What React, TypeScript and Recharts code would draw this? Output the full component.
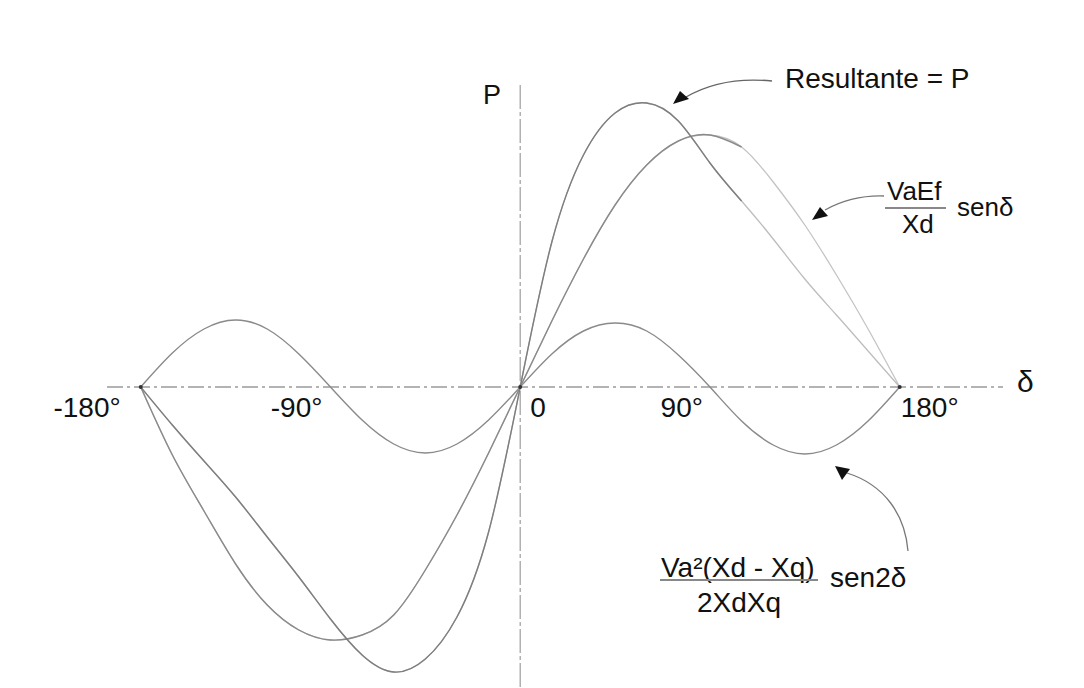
import React from 'react';
import { LineChart, Line, XAxis, YAxis, ReferenceLine, ReferenceDot, Customized } from 'recharts';

// load angle δ in degrees
const deltaDeg = [-180, -165, -150, -135, -120, -105, -90, -75, -60, -45, -30, -15, 0, 15, 30, 45, 60, 75, 90, 105, 120, 135, 150, 165, 180];
// (VaEf / Xd) sen δ
const sinTerm = [0, -68, -124, -177, -218, -243, -253, -248, -228, -183, -128, -66, 0, 66, 128, 182, 222, 246, 252, 240, 205, 162, 112, 58, 0];
// Va²(Xd - Xq) / 2XdXq sen 2δ
const sin2Term = [0, 34, 58, 67, 58, 33, 0, -33, -57, -66, -57, -33, 0, 33, 56, 64, 56, 32, 0, -34, -58, -67, -58, -34, 0];
// Resultante = P
const resultant = [0, -38, -74, -110, -150, -190, -232, -268, -285, -272, -230, -145, 0, 145, 232, 274, 284, 266, 224, 186, 148, 108, 72, 36, 0];

const tickValues = [-180, -90, 0, 90, 180];
const tickLabels = ['-180°', '-90°', '0', '90°', '180°'];
const vertexPoints = [-180, 0, 180];
const darkLimit = 105;

const tickDx = [-20, -8, 10, -7, 1];
const tickAnchor = ['end', 'end', 'start', 'end', 'start'];

const FONT = '"Liberation Sans", Arial, sans-serif';

const rows = deltaDeg.map((d, i) => ({
  d,
  s1: sinTerm[i],
  s2: sin2Term[i],
  r: resultant[i],
  s1m: d <= darkLimit ? sinTerm[i] : null,
  rm: d <= darkLimit ? resultant[i] : null,
}));

const Annotations = () => (
  <g fontFamily={FONT} fill="#111">
    <text x={483} y={104} fontSize={27}>P</text>
    <text x={785} y={88} fontSize={28}>Resultante = P</text>
    <path d="M 772 81 Q 722 76 686 97" stroke="#666" strokeWidth={1.3} fill="none" />
    <path d="M 673 104 L 680 91 L 689 99 Z" fill="#111" />

    <text x={887} y={200} fontSize={26}>VaEf</text>
    <line x1={885} y1={208} x2={946} y2={208} stroke="#888" strokeWidth={2} />
    <text x={902} y={233} fontSize={26}>Xd</text>
    <text x={957} y={216} fontSize={26}>senδ</text>
    <path d="M 884 196 Q 852 195 825 210" stroke="#777" strokeWidth={1.3} fill="none" />
    <path d="M 812 220 L 820 207 L 828 216 Z" fill="#111" />

    <text x={661} y={577} fontSize={28}>Va²(Xd - Xq)</text>
    <line x1={660} y1={580} x2={818} y2={580} stroke="#888" strokeWidth={2} />
    <text x={697} y={612} fontSize={28}>2XdXq</text>
    <text x={830} y={587} fontSize={28}>sen2δ</text>
    <path d="M 908 551 C 905 515 885 485 847 473" stroke="#777" strokeWidth={1.3} fill="none" />
    <path d="M 835 466 L 850 469 L 842 480 Z" fill="#111" />

    <text x={1017} y={392} fontSize={30}>δ</text>
  </g>
);

const makeTickLabel = (i: number) => (props: any) => {
  const vb = props.viewBox || {};
  const cx = (vb.x ?? 0) + (vb.width ?? 0) / 2;
  const cy = (vb.y ?? 0) + (vb.height ?? 0) / 2;
  return (
    <text
      x={cx + tickDx[i]}
      y={cy + 30}
      fontSize={28}
      fontFamily={FONT}
      fill="#111"
      textAnchor={tickAnchor[i] as any}
    >
      {tickLabels[i]}
    </text>
  );
};

export default function App() {
  return (
    <div style={{ position: 'absolute', left: 0, top: 0, width: 1084, height: 688, background: '#fff' }}>
      <LineChart
        width={1084}
        height={688}
        data={rows}
        margin={{ top: 85, right: 81, bottom: 1, left: 107 }}
      >
        <XAxis type="number" dataKey="d" domain={[-196, 229]} hide allowDataOverflow />
        <YAxis type="number" domain={[-300, 302]} hide allowDataOverflow />
        <ReferenceLine y={0} stroke="#9a9a9a" strokeWidth={1.3} strokeDasharray="16 4 3 4" />
        <ReferenceLine x={0} stroke="#a5a5a5" strokeWidth={1.3} strokeDasharray="24 3 4 3" />

        <Line type="natural" dataKey="s2" stroke="#8a8a8a" strokeWidth={1.4} dot={false} isAnimationActive={false} />
        <Line type="natural" dataKey="s1" stroke="#c4c4c4" strokeWidth={1.3} dot={false} isAnimationActive={false} />
        <Line type="natural" dataKey="r" stroke="#bdbdbd" strokeWidth={1.3} dot={false} isAnimationActive={false} />
        <Line type="natural" dataKey="s1m" stroke="#8a8a8a" strokeWidth={1.4} dot={false} isAnimationActive={false} />
        <Line type="natural" dataKey="rm" stroke="#7e7e7e" strokeWidth={1.4} dot={false} isAnimationActive={false} />

        {vertexPoints.map((v) => (
          <ReferenceDot key={'v' + v} x={v} y={0} r={2} fill="#333" stroke="none" />
        ))}
        {tickValues.map((v, i) => (
          <ReferenceDot key={'t' + v} x={v} y={0} r={0.5} fill="none" stroke="none" label={makeTickLabel(i)} />
        ))}

        <Customized component={Annotations} />
      </LineChart>
    </div>
  );
}
